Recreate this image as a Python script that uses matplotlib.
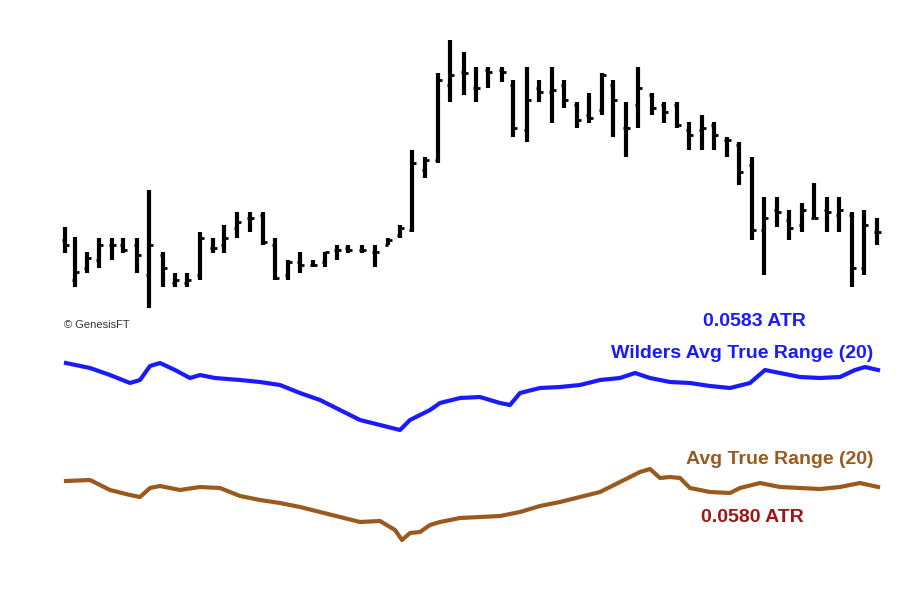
import matplotlib
matplotlib.use('Agg')
import matplotlib.pyplot as plt

# price bars (screen-pixel scale: smaller = higher price)
bar_x = [65, 75, 87, 99, 112, 123, 137, 149, 163, 175, 187, 200, 213, 224, 237, 250, 263,
         275, 288, 300, 313, 325, 337, 348, 362, 375, 388, 400, 412, 425, 438, 450, 464, 476,
         488, 502, 513, 527, 539, 552, 564, 577, 589, 602, 613, 626, 638, 652, 664, 677,
         689, 702, 714, 727, 739, 752, 764, 777, 789, 802, 814, 827, 839, 852, 864, 877]
bar_hi = [227, 237, 252, 238, 238, 238, 238, 190, 252, 273, 273, 232, 238, 225, 212, 212, 212,
          238, 260, 252, 260, 252, 245, 245, 245, 245, 238, 225, 150, 157, 73, 40, 52, 67,
          67, 67, 80, 67, 80, 67, 80, 102, 93, 73, 80, 102, 67, 93, 102, 102,
          122, 115, 122, 137, 142, 157, 197, 197, 210, 203, 183, 197, 197, 212, 210, 218]
bar_lo = [253, 287, 273, 268, 260, 253, 273, 308, 287, 287, 287, 280, 253, 253, 238, 232, 245,
          280, 280, 273, 267, 267, 260, 253, 253, 267, 245, 238, 232, 178, 163, 102, 95, 102,
          88, 82, 137, 142, 102, 123, 108, 128, 123, 115, 137, 157, 128, 115, 123, 128,
          150, 150, 150, 157, 185, 240, 275, 227, 240, 232, 218, 232, 232, 287, 275, 245]
bar_op = [240, 280, 268, 260, 245, 245, 245, 275, 255, 283, 283, 275, 248, 245, 228, 218, 215,
          245, 275, 262, 265, 262, 250, 248, 250, 252, 245, 235, 230, 170, 160, 85, 72, 88,
          70, 70, 85, 130, 88, 92, 85, 105, 115, 110, 85, 128, 105, 95, 105, 105,
          130, 130, 125, 140, 145, 165, 230, 210, 220, 225, 218, 210, 215, 215, 268, 232]
bar_cl = [245, 272, 258, 245, 245, 250, 255, 245, 268, 280, 280, 238, 248, 238, 222, 218, 242,
          278, 262, 265, 265, 252, 250, 250, 250, 252, 240, 228, 163, 160, 80, 75, 73, 88,
          72, 72, 128, 100, 92, 90, 100, 120, 118, 75, 100, 128, 88, 108, 112, 125,
          135, 128, 135, 140, 172, 230, 218, 212, 228, 210, 218, 212, 210, 268, 225, 232]

# indicator lines
wild_x = [66, 90, 110, 130, 140, 150, 160, 175, 190, 200, 215, 240, 260, 280, 300, 320, 340,
          360, 380, 400, 410, 420, 430, 440, 460, 480, 500, 510, 520, 540, 560, 580, 600,
          620, 635, 650, 670, 690, 710, 730, 750, 765, 780, 800, 820, 840, 855, 865, 878]
wild_y = [363, 368, 375, 383, 380, 366, 363, 370, 378, 375, 378, 380, 382, 385, 393, 400, 410,
          420, 425, 430, 420, 415, 410, 403, 398, 397, 403, 405, 393, 388, 387, 385, 380,
          378, 373, 378, 382, 383, 386, 388, 383, 370, 373, 377, 378, 377, 370, 367, 370]
atr_x = [66, 90, 110, 130, 140, 150, 160, 180, 200, 220, 240, 260, 280, 300, 320, 340, 360,
         380, 395, 402, 410, 420, 430, 440, 460, 480, 500, 520, 540, 560, 580, 600, 620,
         640, 650, 660, 670, 680, 690, 710, 730, 740, 760, 780, 800, 820, 840, 860, 878]
atr_y = [481, 480, 490, 495, 497, 488, 486, 490, 487, 488, 496, 500, 503, 507, 512, 517, 522,
         521, 530, 540, 533, 532, 525, 522, 518, 517, 516, 512, 506, 502, 497, 492, 482,
         472, 469, 478, 477, 478, 488, 492, 493, 488, 483, 487, 488, 489, 487, 483, 487]

fig = plt.figure(figsize=(9.16, 6.10), dpi=100)
ax = fig.add_axes([0, 0, 1, 1])
ax.set_xlim(0, 916)
ax.set_ylim(610, 0)
ax.axis('off')

tick = 3.5
for x, h, l, o, c in zip(bar_x, bar_hi, bar_lo, bar_op, bar_cl):
    ax.plot([x, x], [h, l], color='black', lw=3.0, solid_capstyle='butt')
    ax.plot([x - tick, x], [o, o], color='black', lw=2.0, solid_capstyle='butt')
    ax.plot([x, x + tick], [c, c], color='black', lw=2.0, solid_capstyle='butt')

ax.plot(wild_x, wild_y, color='#1a1aff', lw=3.0)
ax.plot(atr_x, atr_y, color='#9a5a1e', lw=3.0)

font = 'Liberation Sans'
ax.text(64, 325, '© GenesisFT', fontsize=8, color='#333333', va='center', family=font)
ax.text(754, 322, '0.0583 ATR', fontsize=14, fontweight='bold', color='#1a1aff',
        ha='center', va='center', family=font)
ax.text(873, 353, 'Wilders Avg True Range (20)', fontsize=14, fontweight='bold',
        color='#1a1aff', ha='right', va='center', family=font)
ax.text(873, 460, 'Avg True Range (20)', fontsize=14, fontweight='bold',
        color='#9a5a1e', ha='right', va='center', family=font)
ax.text(752, 518, '0.0580 ATR', fontsize=14, fontweight='bold', color='#a01414',
        ha='center', va='center', family=font)

plt.savefig('out.png', dpi=100)
